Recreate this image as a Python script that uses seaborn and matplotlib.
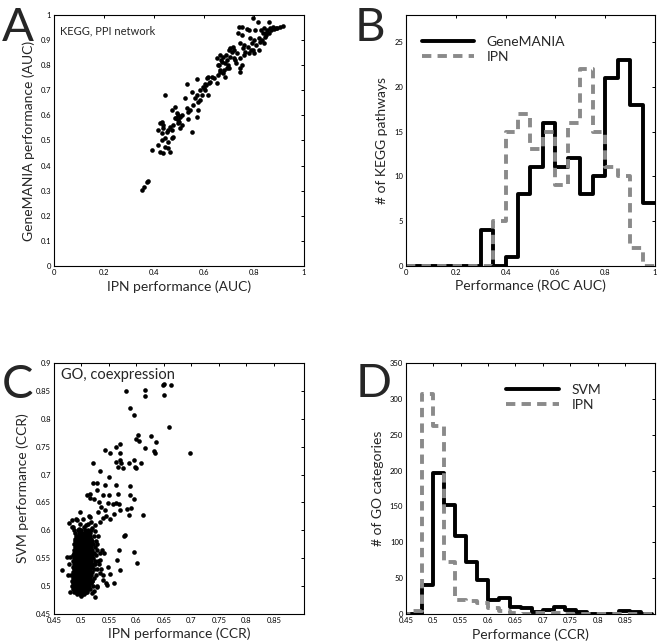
import matplotlib
matplotlib.use("Agg")
import matplotlib.pyplot as plt
import matplotlib.ticker as mticker
import seaborn as sns
import pandas as pd

# ---- panel A: KEGG / PPI network scatter (IPN AUC vs GeneMANIA AUC)
kegg_ipn = [
    0.797, 0.817, 0.861, 0.751, 0.741, 0.771, 0.804, 0.851, 0.864, 0.877, 0.891, 0.904, 0.917,
    0.837, 0.844, 0.831, 0.824, 0.737, 0.751, 0.784, 0.744, 0.791, 0.777, 0.757, 0.797, 0.764,
    0.717, 0.704, 0.711, 0.664, 0.677, 0.651, 0.691, 0.671, 0.684, 0.697, 0.657, 0.704, 0.731,
    0.724, 0.744, 0.664, 0.691, 0.657, 0.684, 0.744, 0.751, 0.744, 0.624, 0.611, 0.597,
    0.81, 0.82, 0.85, 0.86, 0.87, 0.88, 0.84, 0.79, 0.80, 0.83, 0.84, 0.76, 0.72, 0.70, 0.68, 0.73,
    0.351, 0.36, 0.371, 0.377, 0.391,
    0.417, 0.424, 0.437, 0.444, 0.457, 0.464, 0.431, 0.444, 0.457, 0.477, 0.471,
    0.417, 0.431, 0.437, 0.451, 0.457, 0.464, 0.471, 0.424, 0.431, 0.437, 0.477,
    0.444, 0.471, 0.484, 0.491, 0.484, 0.497, 0.504, 0.511, 0.497, 0.511, 0.504,
    0.531, 0.537, 0.544, 0.537, 0.551, 0.571, 0.577,
    0.524, 0.551, 0.557, 0.564, 0.571, 0.577, 0.584, 0.591, 0.604, 0.617,
    0.531, 0.571, 0.604, 0.617, 0.631, 0.651, 0.664, 0.677,
    0.49, 0.50, 0.495, 0.585, 0.60, 0.62, 0.64, 0.61,
    0.66, 0.67, 0.69, 0.70, 0.72, 0.76, 0.78, 0.80, 0.82, 0.85, 0.89, 0.78,
]
kegg_genemania = [
    0.987, 0.973, 0.971, 0.953, 0.951, 0.946, 0.94, 0.94, 0.947, 0.951, 0.947, 0.953, 0.956,
    0.927, 0.914, 0.9, 0.894, 0.927, 0.92, 0.907, 0.887, 0.887, 0.874, 0.867, 0.861, 0.854,
    0.874, 0.867, 0.854, 0.841, 0.834, 0.827, 0.821, 0.814, 0.807, 0.801, 0.801, 0.834, 0.847,
    0.821, 0.827, 0.781, 0.788, 0.761, 0.754, 0.788, 0.801, 0.774, 0.734, 0.748, 0.714,
    0.88, 0.86, 0.92, 0.93, 0.94, 0.945, 0.89, 0.86, 0.85, 0.94, 0.95, 0.84, 0.83, 0.79, 0.78, 0.81,
    0.303, 0.316, 0.336, 0.34, 0.462,
    0.482, 0.455, 0.449, 0.475, 0.469, 0.455, 0.502, 0.509, 0.495, 0.515, 0.509,
    0.542, 0.529, 0.549, 0.535, 0.542, 0.555, 0.542, 0.569, 0.575, 0.562, 0.562,
    0.681, 0.622, 0.635, 0.608, 0.588, 0.582, 0.595, 0.602, 0.569, 0.562, 0.549,
    0.628, 0.615, 0.622, 0.584, 0.535, 0.595, 0.622,
    0.668, 0.694, 0.641, 0.668, 0.681, 0.655, 0.661, 0.681, 0.701, 0.681,
    0.725, 0.744, 0.725, 0.752, 0.754, 0.728, 0.774, 0.768,
    0.59, 0.575, 0.60, 0.70, 0.71, 0.73, 0.75, 0.72,
    0.80, 0.82, 0.84, 0.86, 0.86, 0.88, 0.85, 0.90, 0.91, 0.93, 0.95, 0.94,
]

# ---- panel B: histograms of ROC AUC (bins of 0.05)
auc_edges = [0.0, 0.05, 0.1, 0.15, 0.2, 0.25, 0.3, 0.35, 0.4, 0.45, 0.5,
             0.55, 0.6, 0.65, 0.7, 0.75, 0.8, 0.85, 0.9, 0.95, 1.0]
genemania_counts = [0, 0, 0, 0, 0, 0, 4, 0, 1, 8, 11, 16, 11, 12, 8, 10, 21, 23, 18, 7]
ipn_auc_counts = [0, 0, 0, 0, 0, 0, 0, 5, 15, 17, 13, 15, 9, 16, 22, 15, 11, 10, 2, 0]

# ---- panel C: GO / coexpression scatter (IPN CCR vs SVM CCR)
go_sparse_ipn = [
    0.649, 0.651, 0.663, 0.65, 0.615, 0.615, 0.581, 0.589, 0.596, 0.66, 0.602, 0.604, 0.599,
    0.626, 0.635, 0.632, 0.633, 0.615, 0.697, 0.571, 0.562, 0.552, 0.542,
    0.571, 0.571, 0.562, 0.572, 0.576, 0.567, 0.586, 0.596, 0.598, 0.609, 0.6, 0.521,
    0.534, 0.551, 0.543, 0.528, 0.521, 0.529, 0.516, 0.51, 0.515, 0.523, 0.532, 0.539, 0.551,
    0.562, 0.566, 0.557, 0.563, 0.548,
    0.589, 0.588, 0.595, 0.59, 0.582, 0.586, 0.612, 0.568, 0.57, 0.56, 0.552, 0.545, 0.542,
    0.536, 0.53, 0.54, 0.534, 0.525, 0.515, 0.511, 0.517, 0.504, 0.498, 0.491, 0.482, 0.485, 0.495,
    0.58, 0.578, 0.568, 0.595, 0.601, 0.571, 0.534, 0.549, 0.559, 0.552, 0.565, 0.541, 0.537,
    0.534, 0.54, 0.528, 0.525, 0.546, 0.465, 0.473,
    0.478, 0.483, 0.49, 0.497, 0.502, 0.508, 0.514, 0.52, 0.525, 0.53, 0.528, 0.533, 0.48,
    0.476, 0.478, 0.48, 0.5, 0.51, 0.515, 0.52, 0.525, 0.53, 0.535, 0.54, 0.545, 0.528, 0.522, 0.519,
]
go_sparse_svm = [
    0.861, 0.863, 0.861, 0.842, 0.852, 0.84, 0.85, 0.82, 0.806, 0.785, 0.77, 0.761, 0.763,
    0.769, 0.758, 0.742, 0.738, 0.748, 0.739, 0.755, 0.749, 0.738, 0.744,
    0.738, 0.726, 0.723, 0.72, 0.711, 0.714, 0.721, 0.726, 0.714, 0.721, 0.711, 0.721,
    0.707, 0.696, 0.681, 0.684, 0.685, 0.672, 0.666, 0.663, 0.658, 0.657, 0.651, 0.664, 0.663,
    0.681, 0.666, 0.648, 0.649, 0.649,
    0.679, 0.663, 0.657, 0.64, 0.638, 0.627, 0.628, 0.648, 0.636, 0.63, 0.621, 0.625, 0.636,
    0.642, 0.633, 0.622, 0.615, 0.609, 0.624, 0.612, 0.615, 0.606, 0.612, 0.618, 0.618, 0.606, 0.603,
    0.591, 0.59, 0.565, 0.562, 0.541, 0.529, 0.547, 0.535, 0.505, 0.522, 0.547, 0.559, 0.565,
    0.523, 0.511, 0.499, 0.481, 0.502, 0.528, 0.553,
    0.614, 0.606, 0.62, 0.632, 0.62, 0.61, 0.625, 0.605, 0.598, 0.59, 0.575, 0.56, 0.553,
    0.52, 0.54, 0.49, 0.483, 0.49, 0.495, 0.51, 0.54, 0.545, 0.53, 0.52, 0.505, 0.5, 0.492, 0.487,
]
# dense core of panel C, read row by row (SVM level -> IPN values)
go_core_rows = {
    0.485: [0.492, 0.497, 0.501, 0.505],
    0.490: [0.486, 0.490, 0.494, 0.499, 0.503, 0.508],
    0.495: [0.484, 0.489, 0.493, 0.497, 0.502, 0.506, 0.511],
    0.500: [0.483, 0.487, 0.491, 0.496, 0.500, 0.504, 0.509, 0.514, 0.521],
    0.505: [0.485, 0.489, 0.493, 0.498, 0.502, 0.507, 0.512, 0.518],
    0.510: [0.482, 0.487, 0.491, 0.495, 0.499, 0.504, 0.508, 0.513, 0.519],
    0.515: [0.484, 0.488, 0.492, 0.497, 0.501, 0.506, 0.510, 0.515, 0.522],
    0.520: [0.481, 0.486, 0.490, 0.494, 0.498, 0.503, 0.507, 0.512, 0.517, 0.526],
    0.525: [0.484, 0.488, 0.492, 0.496, 0.500, 0.505, 0.509, 0.514, 0.520],
    0.530: [0.486, 0.490, 0.494, 0.499, 0.503, 0.507, 0.511, 0.516, 0.523, 0.529],
    0.535: [0.485, 0.489, 0.493, 0.497, 0.501, 0.506, 0.510, 0.515, 0.519],
    0.540: [0.487, 0.491, 0.495, 0.500, 0.504, 0.508, 0.512, 0.517, 0.522, 0.531],
    0.545: [0.484, 0.488, 0.492, 0.496, 0.501, 0.505, 0.509, 0.514, 0.518, 0.525],
    0.550: [0.486, 0.490, 0.494, 0.498, 0.502, 0.507, 0.511, 0.516, 0.521],
    0.555: [0.485, 0.489, 0.493, 0.497, 0.501, 0.505, 0.510, 0.514, 0.519, 0.527],
    0.560: [0.487, 0.491, 0.495, 0.499, 0.503, 0.508, 0.512, 0.517, 0.523],
    0.565: [0.486, 0.490, 0.494, 0.498, 0.502, 0.506, 0.511, 0.515, 0.520, 0.528],
    0.570: [0.488, 0.492, 0.496, 0.500, 0.504, 0.509, 0.513, 0.518, 0.524],
    0.575: [0.487, 0.491, 0.495, 0.499, 0.503, 0.507, 0.512, 0.516, 0.521],
    0.580: [0.489, 0.493, 0.497, 0.501, 0.505, 0.510, 0.514, 0.519, 0.527],
    0.585: [0.488, 0.492, 0.496, 0.500, 0.504, 0.508, 0.513, 0.518],
    0.590: [0.490, 0.494, 0.498, 0.502, 0.507, 0.511, 0.516, 0.522],
    0.595: [0.489, 0.495, 0.500, 0.505, 0.510, 0.515],
    0.600: [0.487, 0.493, 0.499, 0.506, 0.512, 0.518],
}

# ---- panel D: histograms of CCR (bins of 0.02)
ccr_edges = [0.44, 0.46, 0.48, 0.50, 0.52, 0.54, 0.56, 0.58, 0.60, 0.62, 0.64, 0.66,
             0.68, 0.70, 0.72, 0.74, 0.76, 0.78, 0.80, 0.82, 0.84, 0.86, 0.88, 0.90]
svm_counts = [0, 0, 40, 197, 152, 109, 72, 48, 20, 22, 10, 8, 3, 6, 10, 6, 3, 0, 0, 0, 4, 3, 0]
ipn_ccr_counts = [0, 4, 307, 262, 73, 20, 18, 15, 9, 4, 2, 0, 2, 1, 1, 0, 0, 0, 0, 0, 0, 0, 0]

GRAY = "#8a8a8a"
FONT = ["Lato", "DejaVu Sans"]

sns.set_style("white")
plt.rcParams["font.family"] = FONT
plt.rcParams["xtick.direction"] = "in"
plt.rcParams["ytick.direction"] = "in"

fig = plt.figure(figsize=(6.61, 6.43), dpi=100)
axA = fig.add_axes([0.0817, 0.5863, 0.3782, 0.3904])
axB = fig.add_axes([0.6142, 0.5863, 0.3767, 0.3904])
axC = fig.add_axes([0.0817, 0.0451, 0.3782, 0.3904])
axD = fig.add_axes([0.6142, 0.0451, 0.3767, 0.3904])


def style_axes(ax):
    for sp in ax.spines.values():
        sp.set_visible(True)
        sp.set_color("black")
        sp.set_linewidth(0.8)
    ax.tick_params(which="both", direction="in", length=2.2, width=0.7,
                   top=True, right=True, labelsize=5.5, pad=2, colors="black")
    ax.xaxis.set_major_formatter(mticker.FormatStrFormatter("%g"))
    ax.yaxis.set_major_formatter(mticker.FormatStrFormatter("%g"))
    ax.grid(False)


def step_hist(ax, edges, counts, color, label, dashed=False):
    df = pd.DataFrame({"x": edges, "y": counts + [counts[-1]]})
    kw = dict(linestyle=(0, (2.4, 1.6))) if dashed else {}
    sns.lineplot(data=df, x="x", y="y", ax=ax, color=color, lw=2.8, label=label,
                 drawstyle="steps-post", estimator=None, sort=False, **kw)


# A
sns.scatterplot(x=kegg_ipn, y=kegg_genemania, ax=axA, color="black", s=11, linewidth=0)
axA.set_xlim(0, 1)
axA.set_ylim(0, 1)
axA.set_xticks([0, 0.2, 0.4, 0.6, 0.8, 1])
axA.set_yticks([0, 0.1, 0.2, 0.3, 0.4, 0.5, 0.6, 0.7, 0.8, 0.9, 1])
axA.set_xlabel("IPN performance (AUC)", fontsize=10)
axA.set_ylabel("GeneMANIA performance (AUC)", fontsize=10)
axA.text(0.024, 0.936, "KEGG, PPI network", transform=axA.transAxes, fontsize=8,
         va="center", ha="left")

# B
step_hist(axB, auc_edges, genemania_counts, "black", "GeneMANIA")
step_hist(axB, auc_edges, ipn_auc_counts, GRAY, "IPN", dashed=True)
axB.set_xlim(0, 1)
axB.set_ylim(0, 28)
axB.set_xticks([0, 0.2, 0.4, 0.6, 0.8, 1])
axB.set_yticks([0, 5, 10, 15, 20, 25])
axB.set_xlabel("Performance (ROC AUC)", fontsize=10)
axB.set_ylabel("# of KEGG pathways", fontsize=10)
axB.legend(loc="upper left", bbox_to_anchor=(0.04, 0.94), frameon=False, fontsize=10,
           handlelength=3.8, handletextpad=0.9, labelspacing=0.25, borderaxespad=0)

# C
core_x = [v for row in go_core_rows.values() for v in row]
core_y = [k for k, row in go_core_rows.items() for _ in row]
sns.scatterplot(x=go_sparse_ipn + core_x, y=go_sparse_svm + core_y, ax=axC,
                color="black", s=11, linewidth=0)
axC.set_xlim(0.45, 0.905)
axC.set_ylim(0.45, 0.9)
axC.set_xticks([0.45, 0.5, 0.55, 0.6, 0.65, 0.7, 0.75, 0.8, 0.85])
axC.set_yticks([0.45, 0.5, 0.55, 0.6, 0.65, 0.7, 0.75, 0.8, 0.85, 0.9])
axC.set_xlabel("IPN performance (CCR)", fontsize=10)
axC.set_ylabel("SVM performance (CCR)", fontsize=10)
axC.text(0.028, 0.952, "GO, coexpression", transform=axC.transAxes, fontsize=10.5,
         va="center", ha="left")

# D
step_hist(axD, ccr_edges, svm_counts, "black", "SVM")
step_hist(axD, ccr_edges, ipn_ccr_counts, GRAY, "IPN", dashed=True)
axD.set_xlim(0.45, 0.905)
axD.set_ylim(0, 350)
axD.set_xticks([0.45, 0.5, 0.55, 0.6, 0.65, 0.7, 0.75, 0.8, 0.85])
axD.set_yticks([0, 50, 100, 150, 200, 250, 300, 350])
axD.set_xlabel("Performance (CCR)", fontsize=10)
axD.set_ylabel("# of GO categories", fontsize=10)
axD.legend(loc="upper left", bbox_to_anchor=(0.38, 0.94), frameon=False, fontsize=10,
           handlelength=3.8, handletextpad=0.9, labelspacing=0.25, borderaxespad=0)

for ax in (axA, axB, axC, axD):
    style_axes(ax)

axA.xaxis.set_label_coords(0.5, -0.056)
axB.xaxis.set_label_coords(0.5, -0.052)
axC.xaxis.set_label_coords(0.5, -0.052)
axD.xaxis.set_label_coords(0.5, -0.056)
axA.yaxis.set_label_coords(-0.076, 0.5)
axB.yaxis.set_label_coords(-0.072, 0.5)
axC.yaxis.set_label_coords(-0.10, 0.5)
axD.yaxis.set_label_coords(-0.09, 0.5)

# panel letters
for letter, x, y in [("A", 0.003, 0.937), ("B", 0.536, 0.937),
                     ("C", 0.003, 0.381), ("D", 0.538, 0.383)]:
    fig.text(x, y, letter, fontsize=34, va="baseline", ha="left")

fig.savefig("out.png", dpi=100)
